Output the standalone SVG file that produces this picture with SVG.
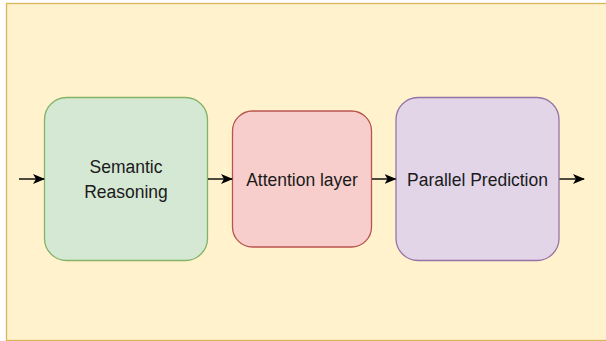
<svg xmlns="http://www.w3.org/2000/svg" width="606" height="341" viewBox="0 0 606 341">
  <style>
    .box { stroke-width: 1.3; }
    .lbl { font-family: "Liberation Sans", Arial, sans-serif; font-size: 17.5px; fill: #1a1a1a; text-anchor: middle; }
    .edge { stroke: #000; stroke-width: 1.4; fill: none; marker-end: url(#arrow); }
  </style>
  <defs>
    <marker id="arrow" viewBox="0 0 12 10" refX="11" refY="5" markerWidth="12" markerHeight="10" markerUnits="userSpaceOnUse" orient="auto">
      <path d="M0,0 L12,5 L0,10 L3,5 Z" fill="#000"/>
    </marker>
  </defs>

  <!-- container panel -->
  <rect id="panel" x="6.5" y="3.5" width="610" height="337" fill="#fff2cc" stroke="#d6b656" stroke-width="1.3"/>

  <g id="semantic-reasoning">
    <rect class="box" x="44.5" y="97.5" width="163" height="163" rx="22" fill="#d5e8d4" stroke="#82b366"/>
    <text class="lbl" transform="translate(126 173) scale(1 1.1)">Semantic</text>
    <text class="lbl" transform="translate(126 198) scale(1 1.1)">Reasoning</text>
  </g>

  <g id="attention-layer">
    <rect class="box" x="232.5" y="111" width="139" height="136" rx="20" fill="#f8cecc" stroke="#b85450"/>
    <text class="lbl" transform="translate(302 186) scale(1 1.1)">Attention layer</text>
  </g>

  <g id="parallel-prediction">
    <rect class="box" x="396" y="97.5" width="163" height="163" rx="22" fill="#e1d5e7" stroke="#9673a6"/>
    <text class="lbl" transform="translate(477.5 186) scale(1 1.1)">Parallel Prediction</text>
  </g>

  <g id="connectors">
    <line class="edge" x1="19" y1="179" x2="44" y2="179"/>
    <line class="edge" x1="208" y1="179" x2="232" y2="179"/>
    <line class="edge" x1="372" y1="179" x2="395.5" y2="179"/>
    <line class="edge" x1="559.5" y1="179" x2="584" y2="179"/>
  </g>
</svg>
